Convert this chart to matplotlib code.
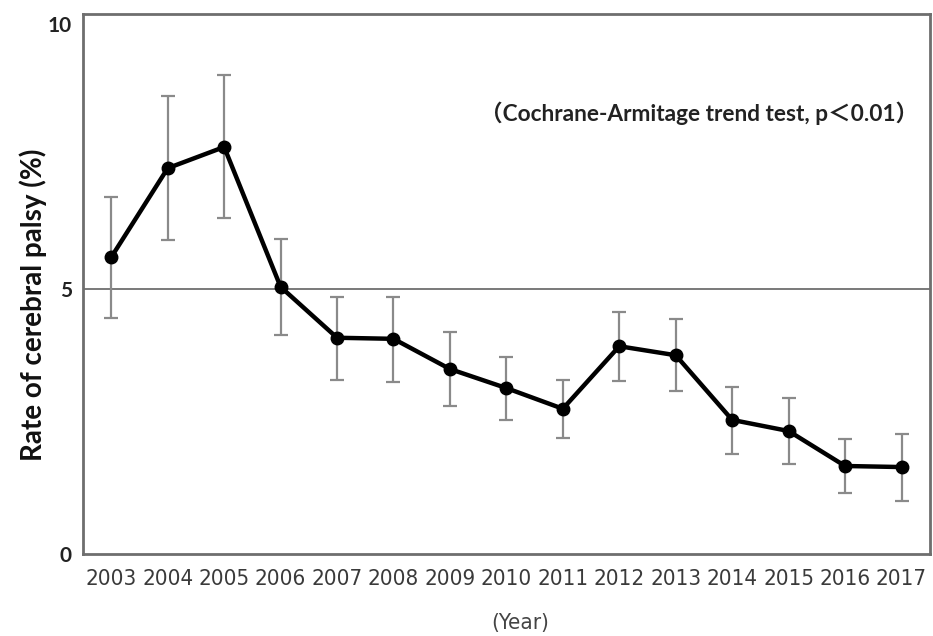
import matplotlib
matplotlib.use("Agg")
import matplotlib.pyplot as plt
import numpy as np

years = ["2003", "2004", "2005", "2006", "2007", "2008", "2009", "2010",
         "2011", "2012", "2013", "2014", "2015", "2016", "2017"]
rate = [5.60, 7.28, 7.68, 5.04, 4.08, 4.06, 3.49, 3.13, 2.74, 3.92, 3.75,
        2.53, 2.32, 1.66, 1.64]
ci_upper = [6.74, 8.64, 9.04, 5.94, 4.85, 4.85, 4.19, 3.72, 3.28, 4.57, 4.43,
            3.15, 2.94, 2.17, 2.26]
ci_lower = [4.45, 5.92, 6.34, 4.13, 3.28, 3.25, 2.79, 2.53, 2.19, 3.26, 3.08,
            1.89, 1.70, 1.15, 1.00]
y_ticks = [0, 5, 10]

plt.rcParams['font.family'] = ['Lato', 'Noto Sans CJK JP', 'DejaVu Sans']

# condensed face for the year labels
year_font = dict(family=['DejaVu Sans'], stretch='condensed')

fig = plt.figure(figsize=(9.33, 6.36), dpi=100)
ax = fig.add_axes([0.089, 0.129, 0.9075, 0.849])

x = np.arange(len(years))
rate_a = np.array(rate)
yerr = np.vstack([rate_a - np.array(ci_lower), np.array(ci_upper) - rate_a])

ax.axhline(5, color="#6e6e6e", lw=1.3, zorder=1)
ax.errorbar(x, rate_a, yerr=yerr, fmt="none", ecolor="#8a8a8a",
            elinewidth=1.6, capsize=5, capthick=1.6, zorder=2)
ax.plot(x, rate_a, color="black", lw=3.2, marker="o", markersize=9,
        zorder=3)

ax.set_xlim(-0.5, len(years) - 0.5)
ax.set_ylim(0, 10.19)
ax.set_xticks(x)
ax.set_xticklabels(years, fontsize=16, color="#3a3a3a", **year_font)
ax.set_yticks(y_ticks)
ax.set_yticklabels([str(v) for v in y_ticks], fontsize=15, fontweight="bold",
                   color="#222222")
ax.tick_params(axis="both", length=0)
ax.tick_params(axis="x", pad=11)
ax.tick_params(axis="y", pad=8)

for s in ax.spines.values():
    s.set_color("#6e6e6e")
    s.set_linewidth(2)

fig.text(33 / 933, 1 - 305 / 636, "Rate of cerebral palsy (%)", fontsize=20,
         fontweight="bold", color="#111111", rotation=90,
         ha="center", va="center")
fig.text(520 / 933, 1 - 623 / 636, "(Year)", fontsize=16,
         color="#444444", ha="center", va="center", **year_font)

ax.text(0.728, 0.817, "（Cochrane-Armitage trend test, p＜0.01）",
        transform=ax.transAxes, fontsize=16.3, fontweight="bold",
        color="#222222", ha="center", va="center")

fig.savefig("out.png", dpi=100)
